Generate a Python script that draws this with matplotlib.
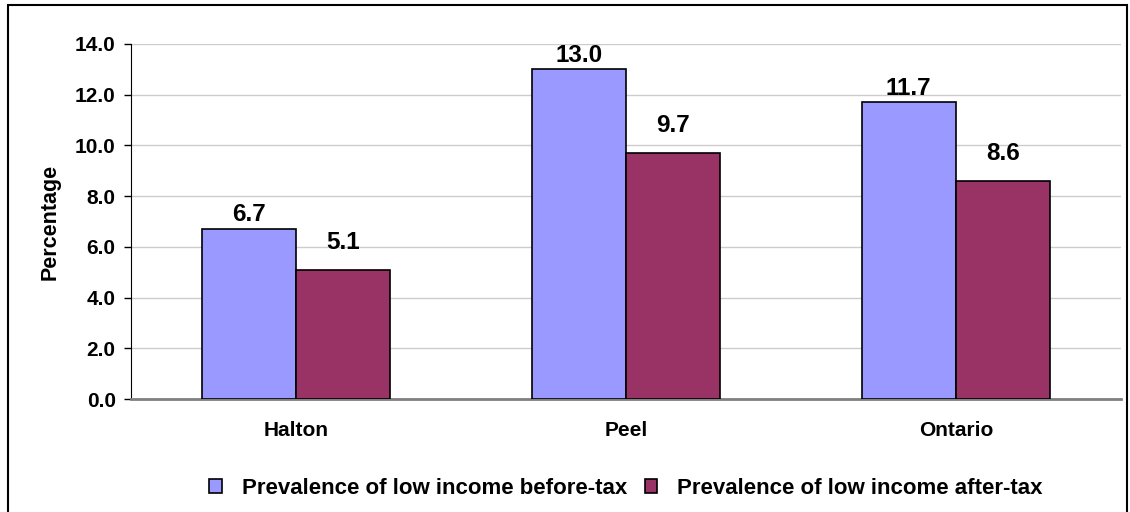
import matplotlib.pyplot as plt
import numpy as np
from matplotlib.patches import Rectangle

# donnees du graphique
regions = ['Halton', 'Peel', 'Ontario']
avant_impot = [6.7, 13.0, 11.7]
apres_impot = [5.1, 9.7, 8.6]
noms_series = ['Prevalence of low income before-tax', 'Prevalence of low income after-tax']
couleurs = ['#9999FF', '#993366']

plt.rcParams['font.family'] = ['Liberation Sans', 'DejaVu Sans']
plt.rcParams['font.weight'] = 'bold'

fig = plt.figure(figsize=(11.3, 5.12), dpi=100)
ax = fig.add_axes([0.1159, 0.2207, 0.876, 0.6934])

# cadre autour de la figure
fig.patches.append(Rectangle((8 / 1130, -0.05), 1119 / 1130, 1.05 - 5 / 512,
                             transform=fig.transFigure, fill=False,
                             edgecolor='black', linewidth=1.5))

x = np.arange(len(regions))
largeur = 1 / 3.5
b1 = ax.bar(x - largeur / 2, avant_impot, largeur, color=couleurs[0],
            edgecolor='black', linewidth=1.2, label=noms_series[0], zorder=3)
b2 = ax.bar(x + largeur / 2, apres_impot, largeur, color=couleurs[1],
            edgecolor='black', linewidth=1.2, label=noms_series[1], zorder=3)

# etiquettes de valeur (les etiquettes apres impot sont plus hautes)
for barres, decalage in ((b1, 5.5), (b2, 15)):
    for b in barres:
        ax.annotate('%.1f' % b.get_height(),
                    (b.get_x() + b.get_width() / 2, b.get_height()),
                    xytext=(0, decalage), textcoords='offset points',
                    ha='center', va='baseline', fontsize=17.5, fontweight='bold')

ax.set_xlim(-0.5, 2.5)
ax.set_ylim(0, 14)
ax.set_yticks(np.arange(0, 14.1, 2))
ax.set_yticklabels(['%.1f' % v for v in np.arange(0, 14.1, 2)])
ax.set_xticks(x)
ax.set_xticklabels(regions, fontsize=15, fontweight='bold')
ax.tick_params(axis='x', length=0, pad=16)
ax.tick_params(axis='y', labelsize=15, length=5, width=1, direction='out', pad=6)
ax.set_ylabel('Percentage', fontsize=15.5, fontweight='bold', labelpad=10)

ax.grid(axis='y', color='#cccccc', linewidth=1, zorder=0)
ax.spines['top'].set_visible(False)
ax.spines['right'].set_visible(False)
ax.spines['left'].set_color('black')
ax.spines['bottom'].set_color('#808080')
ax.spines['bottom'].set_linewidth(2)

ax.legend(loc='center', bbox_to_anchor=(0.5, -0.252), ncol=2, frameon=False,
          prop={'size': 16, 'weight': 'bold'}, handlelength=0.55,
          handleheight=0.55, handletextpad=0.9, columnspacing=0.8)

fig.savefig('out.png', dpi=100)
